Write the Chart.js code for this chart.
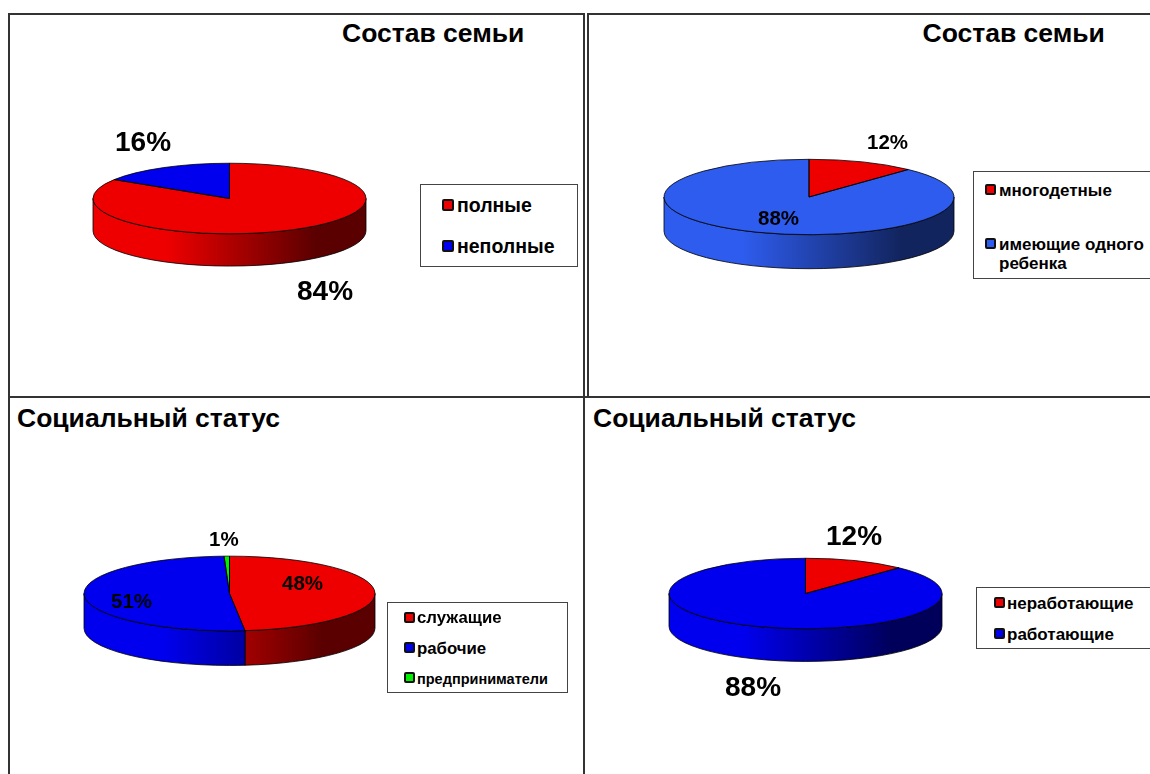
<!DOCTYPE html>
<html>
<head>
<meta charset="utf-8">
<title>Состав семьи, социальный статус</title>
<script src="https://cdn.jsdelivr.net/npm/chart.js@4"></script>
<style>
  html, body { margin: 0; padding: 0; background: #fff; }
  #page { position: relative; width: 1150px; height: 774px; overflow: hidden; font-family: "Liberation Sans", Arial, sans-serif; font-weight: bold; color: #000; }
  .line { position: absolute; background: #333; }
  .box { position: absolute; background: #fff; border: 1px solid #444; box-sizing: border-box; }
  .marker { position: absolute; box-sizing: border-box; border: 2px solid #111; border-radius: 2px; }
  .txt { position: absolute; white-space: nowrap; z-index: 5; }
  canvas { position: absolute; z-index: 2; }
</style>
</head>
<body>
<div id="page"></div>
<script>
var familyTitle = "Состав семьи";
var statusTitle = "Социальный статус";

var familyLabels = ["полные", "неполные"];
var familyValues = [84, 16];

var childrenLabels = ["многодетные", "имеющие одного ребенка"];
var childrenValues = [12, 88];

var socialLabels = ["служащие", "рабочие", "предприниматели"];
var socialValues = [48.3, 51.1, 0.6];

var workLabels = ["неработающие", "работающие"];
var workValues = [12, 88];

var RED = "#ee0000", BLUE = "#0000ee", ROYAL = "#2e5cee", GREEN = "#00ee00";
var DARK = {};
DARK[RED] = "#5a0000";
DARK[BLUE] = "#00005a";
DARK[ROYAL] = "#12245e";
DARK[GREEN] = "#005a00";

var page = document.getElementById("page");

// draws the side wall under the pie, then squashes the circle into an ellipse
var tiltPlugin = {
  id: "tilt",
  beforeDatasetsDraw: function(chart, args, opts) {
    var ctx = chart.ctx;
    var arcs = chart.getDatasetMeta(0).data;
    var colors = chart.data.datasets[0].backgroundColor;
    for (var i = 0; i < arcs.length; i++) {
      var a = arcs[i];
      var lo = Math.max(a.startAngle, 0);
      var hi = Math.min(a.endAngle, Math.PI);
      if (hi <= lo) continue;
      var rx = a.outerRadius;
      var ry = rx * opts.squash;
      var g = ctx.createLinearGradient(a.x - rx, 0, a.x + rx, 0);
      g.addColorStop(0, colors[i]);
      g.addColorStop(0.27, colors[i]);
      g.addColorStop(0.82, DARK[colors[i]]);
      g.addColorStop(1, DARK[colors[i]]);
      ctx.beginPath();
      ctx.ellipse(a.x, a.y, rx, ry, 0, lo, hi);
      ctx.ellipse(a.x, a.y + opts.depth, rx, ry, 0, hi, lo, true);
      ctx.closePath();
      ctx.fillStyle = g;
      ctx.fill();
      ctx.lineWidth = 0.8;
      ctx.strokeStyle = "#000";
      ctx.stroke();
    }
    ctx.save();
    var cy = chart.height / 2;
    ctx.translate(0, cy);
    ctx.scale(1, opts.squash);
    ctx.translate(0, -cy);
  },
  afterDatasetsDraw: function(chart, args, opts) {
    var ctx = chart.ctx;
    ctx.restore();
    var arcs = chart.getDatasetMeta(0).data;
    for (var i = 0; i < arcs.length; i++) {
      var a = arcs[i];
      var rx = a.outerRadius;
      ctx.beginPath();
      ctx.moveTo(a.x, a.y);
      ctx.ellipse(a.x, a.y, rx, rx * opts.squash, 0, a.startAngle, a.endAngle);
      ctx.closePath();
      ctx.lineWidth = 0.8;
      ctx.strokeStyle = "#000";
      ctx.stroke();
    }
  }
};

function addLine(x, y, w, h) {
  var d = document.createElement("div");
  d.className = "line";
  d.style.cssText = "left:" + x + "px;top:" + y + "px;width:" + w + "px;height:" + h + "px";
  page.appendChild(d);
}

function addText(str, x, baseline, size) {
  var d = document.createElement("div");
  d.className = "txt";
  d.textContent = str;
  d.style.left = x + "px";
  d.style.top = (baseline - size * 0.8465) + "px";
  d.style.fontSize = size + "px";
  d.style.lineHeight = size + "px";
  page.appendChild(d);
}

function addBox(x, y, w, h) {
  var d = document.createElement("div");
  d.className = "box";
  d.style.cssText = "left:" + x + "px;top:" + y + "px;width:" + w + "px;height:" + h + "px";
  page.appendChild(d);
}

function addMarker(x, y, w, h, color) {
  var d = document.createElement("div");
  d.className = "marker";
  d.style.cssText = "left:" + x + "px;top:" + y + "px;width:" + w + "px;height:" + h + "px;background:" + color + ";z-index:5";
  page.appendChild(d);
}

function pct(v) {
  return Math.round(v) + "%";
}

function addPie(id, labels, values, colors, cx, cy, rx, ry, depth) {
  var size = Math.round(rx * 2) + 8;
  var cv = document.createElement("canvas");
  cv.id = id;
  cv.width = size;
  cv.height = size;
  cv.style.left = (cx - size / 2) + "px";
  cv.style.top = (cy - size / 2) + "px";
  page.appendChild(cv);
  return new Chart(cv.getContext("2d"), {
    type: "pie",
    data: {
      labels: labels,
      datasets: [{ data: values, backgroundColor: colors, borderWidth: 0 }]
    },
    options: {
      responsive: false,
      animation: false,
      devicePixelRatio: 1,
      layout: { padding: 4 },
      plugins: {
        legend: { display: false },
        tooltip: { enabled: false },
        title: { display: false },
        tilt: { squash: ry / rx, depth: depth }
      }
    },
    plugins: [tiltPlugin]
  });
}

// frame
addLine(8, 13, 576, 2);
addLine(587, 13, 563, 2);
addLine(8, 13, 2, 761);
addLine(583, 13, 2, 761);
addLine(587, 13, 2, 384);
addLine(8, 396, 1142, 2);

// top left
addText(familyTitle, 342, 42.5, 26.5);
addPie("familyChart", familyLabels, familyValues, [RED, BLUE], 229.2, 198.7, 136.6, 35.3, 32.3);
addText(pct(familyValues[1]), 115, 152, 28);
addText(pct(familyValues[0]), 297, 301, 28);
addBox(420, 184, 158, 83);
addMarker(442, 199, 12, 12, RED);
addText(familyLabels[0], 457, 212.7, 19.5);
addMarker(442, 240, 12, 12, BLUE);
addText(familyLabels[1], 457, 253.7, 19.5);

// top right
addText(familyTitle, 922.5, 42.5, 26.5);
addPie("childrenChart", childrenLabels, childrenValues, [RED, ROYAL], 809.3, 196.7, 145, 37.7, 34);
addText(pct(childrenValues[0]), 867, 149, 20.5);
addText(pct(childrenValues[1]), 758, 225, 20.5);
addBox(973, 171, 190, 108);
addMarker(985, 184, 11, 11, RED);
addText(childrenLabels[0], 999, 196, 17);
addMarker(985, 238, 11, 11, ROYAL);
addText("имеющие одного", 999, 250.3, 17);
addText("ребенка", 999, 269.3, 17);

// bottom left
addText(statusTitle, 17, 427.5, 26.5);
addPie("socialChart", socialLabels, socialValues, [RED, BLUE, GREEN], 229.8, 593.3, 145.3, 37.3, 34.6);
addText(pct(socialValues[2]), 209, 546.7, 20.5);
addText(pct(socialValues[0]), 282, 590.7, 20.5);
addText(pct(socialValues[1]), 111, 608, 20.5);
addBox(387, 601.5, 181, 91.5);
addMarker(404, 612, 11, 11, RED);
addText(socialLabels[0], 417, 624.2, 16.8);
addMarker(404, 642, 11, 11, BLUE);
addText(socialLabels[1], 417, 654.8, 16.8);
addMarker(404, 672, 11, 11, GREEN);
addText(socialLabels[2], 417, 684.3, 14.5);

// bottom right
addText(statusTitle, 593, 427.5, 26.5);
addPie("workChart", workLabels, workValues, [RED, BLUE], 805, 593, 136.7, 35.3, 32.7);
addText(pct(workValues[0]), 826, 546, 28);
addText(pct(workValues[1]), 725, 697, 28);
addBox(975.5, 587, 190, 61.5);
addMarker(994, 597, 11, 11, RED);
addText(workLabels[0], 1007, 609.7, 17);
addMarker(994, 628, 11, 11, BLUE);
addText(workLabels[1], 1007, 640, 17);
</script>
</body>
</html>
